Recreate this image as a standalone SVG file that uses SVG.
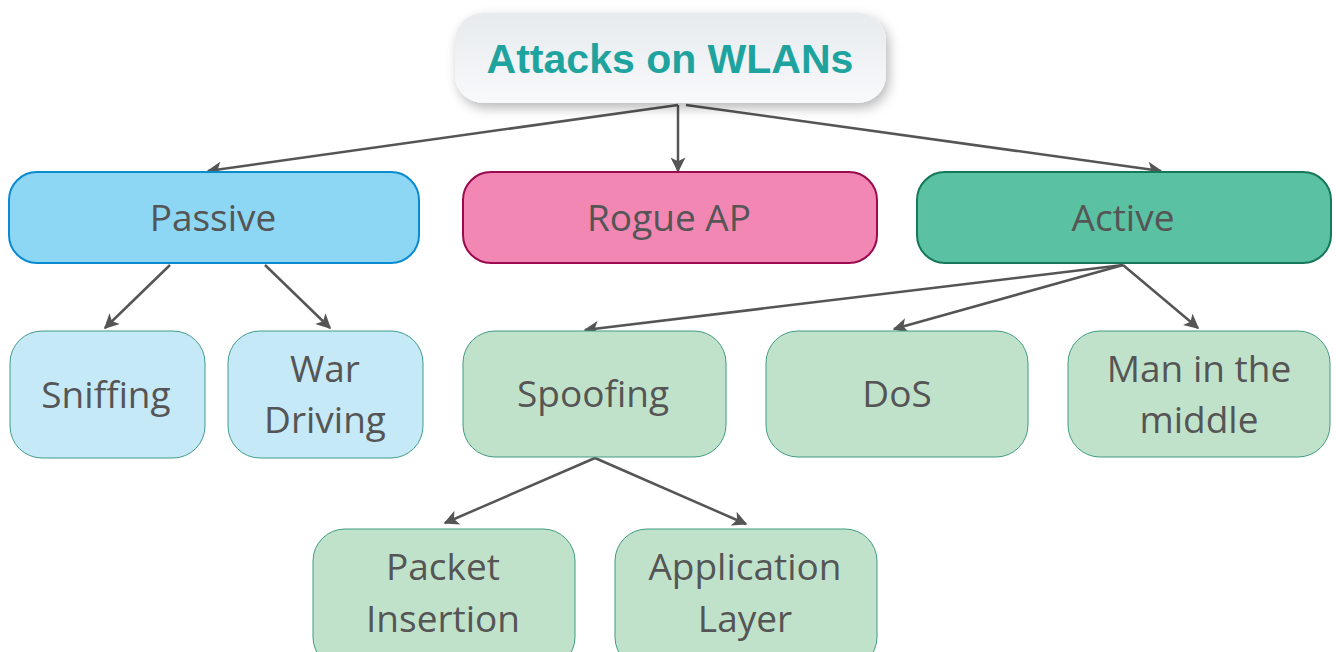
<svg xmlns="http://www.w3.org/2000/svg" width="1336" height="652" viewBox="0 0 1336 652">
  <style>
    .lbl { font-family: "Open Sans", "Noto Sans", "Liberation Sans", sans-serif; font-size: 37px; fill: #555555; text-anchor: middle; }
    .title { font-family: "Liberation Sans", Arial, sans-serif; font-weight: bold; font-size: 41px; fill: #1fa39e; text-anchor: middle; }
    .edge { stroke: #555555; stroke-width: 2.5; fill: none; marker-end: url(#arrow); }
    .blue { fill: #c6e9f8; stroke: #3f9c8c; stroke-width: 1; }
    .green { fill: #c0e2cb; stroke: #3f9c80; stroke-width: 1; }
  </style>
  <defs>
    <linearGradient id="titleFill" x1="0" y1="0" x2="0" y2="1">
      <stop offset="0" stop-color="#e7ebee"/>
      <stop offset="1" stop-color="#f8f9fb"/>
    </linearGradient>
    <filter id="shadow" x="-20%" y="-30%" width="140%" height="170%">
      <feDropShadow dx="3" dy="5" stdDeviation="6" flood-color="#000000" flood-opacity="0.28"/>
    </filter>
    <marker id="arrow" viewBox="0 0 10 10" refX="9" refY="5" markerWidth="6.4" markerHeight="6" orient="auto" markerUnits="strokeWidth">
      <path d="M0,0 L10,5 L0,10 L2.5,5 Z" fill="#555555"/>
    </marker>
  </defs>

  <!-- connectors -->
  <g id="connectors">
    <line class="edge" x1="678" y1="105" x2="208" y2="171"/>
    <line class="edge" x1="678" y1="105" x2="678" y2="171"/>
    <line class="edge" x1="686" y1="105" x2="1161" y2="171"/>
    <line class="edge" x1="170" y1="265" x2="105" y2="328"/>
    <line class="edge" x1="265" y1="265" x2="330" y2="328"/>
    <line class="edge" x1="1123" y1="265" x2="585" y2="330"/>
    <line class="edge" x1="1123" y1="265" x2="894" y2="329"/>
    <line class="edge" x1="1123" y1="265" x2="1198" y2="328"/>
    <line class="edge" x1="595" y1="458" x2="445" y2="523"/>
    <line class="edge" x1="595" y1="458" x2="746" y2="524"/>
  </g>

  <g id="title">
    <rect x="455" y="13" width="431" height="90" rx="28" fill="url(#titleFill)" filter="url(#shadow)"/>
    <text class="title" x="670" y="73">Attacks on WLANs</text>
  </g>

  <g id="passive">
    <rect x="9" y="172" width="410" height="91" rx="28" fill="#8dd7f5" stroke="#0a8bd0" stroke-width="2"/>
    <text class="lbl" x="213" y="231">Passive</text>
  </g>
  <g id="rogue-ap">
    <rect x="463" y="172" width="414" height="91" rx="28" fill="#f187b2" stroke="#9b0a4e" stroke-width="2"/>
    <text class="lbl" x="669" y="231">Rogue AP</text>
  </g>
  <g id="active">
    <rect x="917" y="172" width="414" height="91" rx="28" fill="#5ac1a2" stroke="#16775a" stroke-width="2"/>
    <text class="lbl" x="1123" y="231">Active</text>
  </g>

  <g id="sniffing">
    <rect class="blue" x="10" y="331" width="195" height="127" rx="32"/>
    <text class="lbl" x="106" y="408">Sniffing</text>
  </g>
  <g id="war-driving">
    <rect class="blue" x="228" y="331" width="195" height="127" rx="32"/>
    <text class="lbl" x="325" y="382">War</text>
    <text class="lbl" x="325" y="433">Driving</text>
  </g>
  <g id="spoofing">
    <rect class="green" x="463" y="331" width="263" height="126" rx="32"/>
    <text class="lbl" x="593" y="407">Spoofing</text>
  </g>
  <g id="dos">
    <rect class="green" x="766" y="331" width="262" height="126" rx="32"/>
    <text class="lbl" x="897" y="407">DoS</text>
  </g>
  <g id="man-in-the-middle">
    <rect class="green" x="1068" y="331" width="262" height="126" rx="32"/>
    <text class="lbl" x="1199" y="382">Man in the</text>
    <text class="lbl" x="1199" y="433">middle</text>
  </g>

  <g id="packet-insertion">
    <rect class="green" x="313" y="529" width="262" height="140" rx="32"/>
    <text class="lbl" x="443" y="580">Packet</text>
    <text class="lbl" x="443" y="632">Insertion</text>
  </g>
  <g id="application-layer">
    <rect class="green" x="615" y="529" width="262" height="140" rx="32"/>
    <text class="lbl" x="745" y="580">Application</text>
    <text class="lbl" x="745" y="632">Layer</text>
  </g>
</svg>
